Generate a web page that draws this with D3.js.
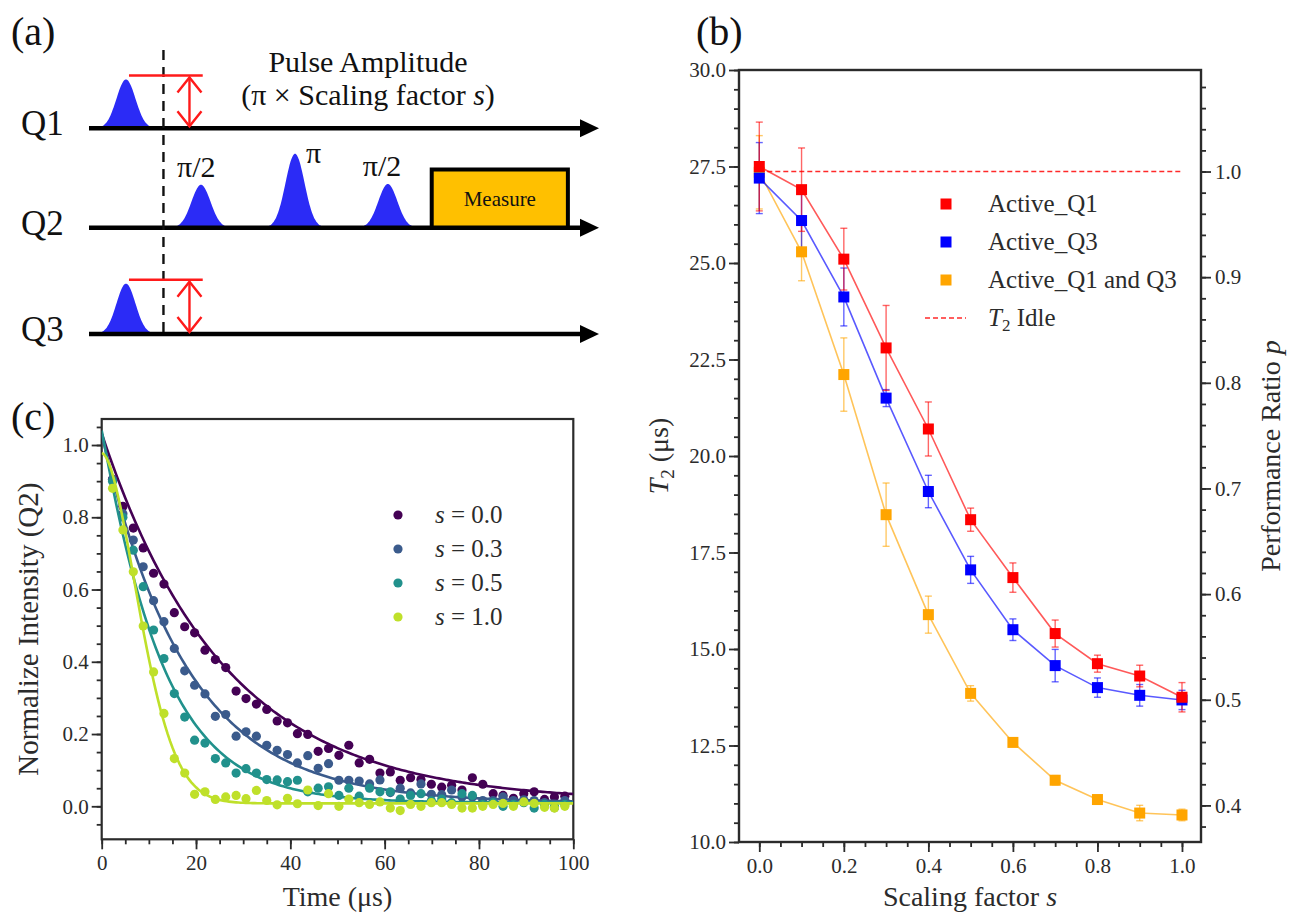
<!DOCTYPE html>
<html><head><meta charset="utf-8">
<script src="https://d3js.org/d3.v7.min.js"></script>
<style>
html,body{margin:0;padding:0;background:#fff;}
svg{display:block;}
</style></head>
<body>
<svg id="fig" width="1301" height="917" xmlns="http://www.w3.org/2000/svg"></svg>
<script>
// ===================== DATA =====================
// ---- Panel (b): T2 vs scaling factor ----
const scalingFactor = [0.0, 0.1, 0.2, 0.3, 0.4, 0.5, 0.6, 0.7, 0.8, 0.9, 1.0];
const t2ActiveQ1     = [27.50, 26.90, 25.10, 22.80, 20.70, 18.35, 16.85, 15.40, 14.62, 14.30, 13.75];
const t2ActiveQ1Err  = [1.15, 1.08, 0.80, 1.10, 0.70, 0.30, 0.38, 0.35, 0.22, 0.28, 0.38];
const t2ActiveQ3     = [27.20, 26.10, 24.12, 21.50, 19.08, 17.05, 15.50, 14.57, 14.00, 13.80, 13.68];
const t2ActiveQ3Err  = [0.92, 0.72, 0.75, 0.22, 0.42, 0.35, 0.28, 0.42, 0.25, 0.28, 0.25];
const t2ActiveQ1Q3   = [27.35, 25.29, 22.11, 18.48, 15.89, 13.85, 12.58, 11.60, 11.10, 10.75, 10.70];
const t2ActiveQ1Q3Err= [0.95, 0.75, 0.95, 0.82, 0.48, 0.20, 0.08, 0.12, 0.08, 0.20, 0.15];
const t2Idle = 27.37;
const seriesNamesB = ["Active_Q1", "Active_Q3", "Active_Q1 and Q3"];
const t2TickValues = [10.0, 12.5, 15.0, 17.5, 20.0, 22.5, 25.0, 27.5, 30.0];
const ratioTickValues = [0.4, 0.5, 0.6, 0.7, 0.8, 0.9, 1.0];
const scalingTickValues = [0.0, 0.2, 0.4, 0.6, 0.8, 1.0];

// ---- Panel (c): Ramsey/echo decay of Q2 ----
const timeUs = [2.3, 4.5, 6.7, 8.8, 11.0, 13.2, 15.4, 17.6, 19.7, 21.9, 24.1, 26.3, 28.5, 30.6, 32.8,
  35.0, 37.2, 39.4, 41.5, 43.7, 45.9, 48.1, 50.3, 52.4, 54.6, 56.8, 59.0, 61.2, 63.3, 65.5,
  67.7, 69.9, 72.1, 74.2, 76.4, 78.6, 80.8, 83.0, 85.1, 87.3, 89.5, 91.7, 93.9, 96.0, 98.2];
const intensityS00 = [0.905, 0.830, 0.770, 0.715, 0.645, 0.615, 0.536, 0.497, 0.480, 0.432, 0.406, 0.384, 0.319, 0.298, 0.283,
  0.268, 0.236, 0.231, 0.201, 0.199, 0.152, 0.160, 0.141, 0.169, 0.120, 0.130, 0.092, 0.095, 0.072, 0.079,
  0.074, 0.061, 0.053, 0.058, 0.045, 0.079, 0.061, 0.035, 0.030, 0.022, 0.035, 0.040, 0.019, 0.026, 0.028];
const intensityS03 = [0.905, 0.810, 0.737, 0.663, 0.569, 0.511, 0.437, 0.375, 0.335, 0.311, 0.249, 0.254, 0.194, 0.206, 0.194,
  0.169, 0.155, 0.143, 0.120, 0.140, 0.105, 0.118, 0.072, 0.072, 0.070, 0.062, 0.073, 0.038, 0.050, 0.037,
  0.062, 0.033, 0.032, 0.045, 0.026, 0.026, 0.016, 0.016, 0.026, 0.016, 0.018, 0.016, 0.010, -0.004, 0.016];
const intensityS05 = [0.900, 0.800, 0.709, 0.608, 0.488, 0.409, 0.312, 0.247, 0.183, 0.175, 0.132, 0.120, 0.092, 0.104, 0.092,
  0.074, 0.073, 0.068, 0.072, 0.040, 0.050, 0.054, 0.030, 0.050, 0.028, 0.050, 0.040, 0.040, 0.020, 0.030,
  0.035, 0.015, 0.020, 0.010, 0.035, 0.030, 0.005, 0.010, 0.000, 0.005, 0.010, -0.005, 0.005, 0.000, 0.005];
const intensityS10 = [0.880, 0.765, 0.649, 0.499, 0.372, 0.257, 0.132, 0.092, 0.033, 0.040, 0.019, 0.026, 0.030, 0.021, 0.044,
  0.016, 0.004, 0.022, 0.007, 0.045, 0.002, 0.035, 0.000, 0.020, 0.010, 0.005, 0.012, -0.005, -0.012, 0.005,
  0.000, 0.010, 0.010, 0.005, -0.005, -0.005, 0.000, 0.005, 0.008, 0.000, 0.012, 0.008, -0.003, -0.005, 0.000];
const sValueLabels = ["0.0", "0.3", "0.5", "1.0"];
// fit model  A*exp(-(t/T)^n) + c  (one entry per series)
const fitAmplitude = [1.02, 1.02, 1.03, 0.97];
const fitT = [26.0, 18.0, 13.0, 10.7];
const fitExponent = [1.0, 1.0, 1.05, 1.8];
const fitOffset = [0.012, 0.010, 0.010, 0.008];
const timeTickValues = [0, 20, 40, 60, 80, 100];
const intensityTickValues = [0.0, 0.2, 0.4, 0.6, 0.8, 1.0];

// ---- Panel (a): pulse schematic ----
const qubitLabels = ["Q1", "Q2", "Q3"];
const pulseQubit = [0, 1, 1, 1, 2];
const pulseTime = [7.25, 21.96, 40.4, 58.6, 7.25];
const pulseAmplitude = [0.66, 0.58, 1.0, 0.59, 0.68];
const pulseLabel = ["", "π/2", "π", "π/2", ""];
const scaledPulseIndex = [0, 4];

// ===================== STYLE / LAYOUT =====================
const FONT = '"Liberation Serif","Times New Roman",Times,serif';
const AXIS_COLOR = "#2b2b2b";
const TEXT_COLOR = "#2b2b2b";
const seriesColorsB = ["#ff0000", "#0000ff", "#ffa500"];
const viridisColors = ["#440154", "#3b5b8c", "#21918c", "#bfe02a"];

const svg = d3.select("#fig");
svg.append("rect").attr("width", 1301).attr("height", 917).attr("fill", "#fff");

function styleAxis(g, fs) {
  g.attr("font-family", FONT).attr("font-size", fs);
  g.select(".domain").remove();
  g.selectAll(".tick line").attr("stroke", AXIS_COLOR).attr("stroke-width", 1.8);
  g.selectAll(".tick text").attr("fill", TEXT_COLOR);
}
function panelLabel(txt, x, y) {
  svg.append("text").attr("x", x).attr("y", y).attr("font-family", FONT)
    .attr("font-size", 40).attr("fill", "#111").text(txt);
}

// ===================== PANEL (a) =====================
(function () {
  const g = svg.append("g");
  const ax = d3.scaleLinear().domain([0, 100]).range([89, 599]);
  const qy = d3.scaleOrdinal().domain([0, 1, 2]).range([128.3, 227.7, 334]);
  const unitH = 74; // pixel height of a pi pulse
  const sigma = 9.5;

  // pulses
  const area = d3.area().curve(d3.curveBasis);
  pulseTime.forEach((pt, i) => {
    const cx = ax(pt), base = qy(pulseQubit[i]), h = pulseAmplitude[i] * unitH;
    const pts = d3.range(-32, 32.5, 1).map(dx => [cx + dx, base - h * Math.exp(-dx * dx / (2 * sigma * sigma))]);
    g.append("path")
      .attr("d", area.x(d => d[0]).y0(base).y1(d => d[1])(pts))
      .attr("fill", "#2b2bf6");
    if (pulseLabel[i]) {
      const lx = pulseLabel[i] === "π" ? cx + 11 : cx - 24 + (i === 3 ? -1 : 0);
      const ly = pulseLabel[i] === "π" ? base - h + 9 : base - h - 8;
      g.append("text").attr("x", lx).attr("y", ly).attr("font-family", FONT)
        .attr("font-size", 30).attr("fill", "#111").text(pulseLabel[i]);
    }
  });

  // qubit lines with arrowheads
  qubitLabels.forEach((q, i) => {
    const y = qy(i);
    g.append("line").attr("x1", ax(0)).attr("x2", ax(100) - 12).attr("y1", y).attr("y2", y)
      .attr("stroke", "#000").attr("stroke-width", 4.5);
    g.append("path").attr("d", `M${ax(100)},${y} L${ax(100) - 19},${y - 9} L${ax(100) - 19},${y + 9} Z`)
      .attr("fill", "#000");
    g.append("text").attr("x", 21).attr("y", y + 7).attr("font-family", FONT)
      .attr("font-size", 35).attr("fill", "#111").text(q);
  });

  // dashed vertical separator
  g.append("line").attr("x1", ax(14.6)).attr("x2", ax(14.6)).attr("y1", 50).attr("y2", 334)
    .attr("stroke", "#111").attr("stroke-width", 2.4).attr("stroke-dasharray", "10,7");

  // amplitude markers for scaled pulses
  scaledPulseIndex.forEach(i => {
    const base = qy(pulseQubit[i]), h = pulseAmplitude[i] * unitH;
    const top = base - h - 4;
    g.append("line").attr("x1", ax(pulseTime[i]) + 3).attr("x2", ax(22.3)).attr("y1", top).attr("y2", top)
      .attr("stroke", "#ff1a1a").attr("stroke-width", 2.4);
    const x = ax(19.7);
    g.append("line").attr("x1", x).attr("x2", x).attr("y1", top + 2).attr("y2", base - 2)
      .attr("stroke", "#ff1a1a").attr("stroke-width", 2.4);
    g.append("path").attr("d", `M${x - 12},${top + 17} L${x},${top + 2} L${x + 12},${top + 17}`)
      .attr("fill", "none").attr("stroke", "#ff1a1a").attr("stroke-width", 2.4);
    g.append("path").attr("d", `M${x - 12},${base - 17} L${x},${base - 2} L${x + 12},${base - 17}`)
      .attr("fill", "none").attr("stroke", "#ff1a1a").attr("stroke-width", 2.4);
  });

  // annotation text
  g.append("text").attr("x", 368).attr("y", 72).attr("text-anchor", "middle").attr("font-family", FONT)
    .attr("font-size", 30).attr("fill", "#111").text("Pulse Amplitude");
  const t2 = g.append("text").attr("x", 368).attr("y", 105).attr("text-anchor", "middle").attr("font-family", FONT)
    .attr("font-size", 30).attr("fill", "#111");
  t2.append("tspan").text("(π × Scaling factor ");
  t2.append("tspan").attr("font-style", "italic").text("s");
  t2.append("tspan").text(")");

  // measure box
  g.append("rect").attr("x", ax(67.2)).attr("y", 169.5).attr("width", ax(93.9) - ax(67.2)).attr("height", 58)
    .attr("fill", "#ffc000").attr("stroke", "#000").attr("stroke-width", 4);
  g.append("text").attr("x", (ax(67.2) + ax(93.9)) / 2).attr("y", 206).attr("text-anchor", "middle")
    .attr("font-family", FONT).attr("font-size", 21).attr("fill", "#111").text("Measure");

  panelLabel("(a)", 11, 45);
})();

// ===================== PANEL (b) =====================
(function () {
  const g = svg.append("g");
  const L = 739, R = 1201, T = 70, B = 842;
  const x = d3.scaleLinear().domain([-0.048, 1.045]).range([L, R]);
  const y = d3.scaleLinear().domain([10, 30]).range([B, T]);
  const yr = d3.scaleLinear().domain([10 / t2Idle, 30 / t2Idle]).range([B, T]);

  const fs = 21;
  styleAxis(g.append("g").attr("transform", `translate(${L},0)`)
    .call(d3.axisLeft(y).tickValues(d3.range(10, 30.01, 0.5)).tickSize(5).tickFormat("")), fs);
  styleAxis(g.append("g").attr("transform", `translate(${L},0)`)
    .call(d3.axisLeft(y).tickValues(t2TickValues).tickSize(10).tickPadding(3).tickFormat(d3.format(".1f"))), fs);
  styleAxis(g.append("g").attr("transform", `translate(0,${B})`)
    .call(d3.axisBottom(x).tickValues(d3.range(0, 1.001, 0.05)).tickSize(5).tickFormat("")), fs);
  styleAxis(g.append("g").attr("transform", `translate(0,${B})`)
    .call(d3.axisBottom(x).tickValues(scalingTickValues).tickSize(10).tickPadding(6).tickFormat(d3.format(".1f"))), fs);
  styleAxis(g.append("g").attr("transform", `translate(${R},0)`)
    .call(d3.axisRight(yr).tickValues(d3.range(0.38, 1.09, 0.02)).tickSize(5).tickFormat("")), fs);
  styleAxis(g.append("g").attr("transform", `translate(${R},0)`)
    .call(d3.axisRight(yr).tickValues(ratioTickValues).tickSize(10).tickPadding(4).tickFormat(d3.format(".1f"))), fs);

  g.append("rect").attr("x", L).attr("y", T).attr("width", R - L).attr("height", B - T)
    .attr("fill", "none").attr("stroke", AXIS_COLOR).attr("stroke-width", 2.4);

  // idle line
  g.append("line").attr("x1", x(0)).attr("x2", x(1)).attr("y1", y(t2Idle)).attr("y2", y(t2Idle))
    .attr("stroke", "#ff2a2a").attr("stroke-width", 1.5).attr("stroke-dasharray", "5,3");

  const seriesB = [
    { v: t2ActiveQ1, e: t2ActiveQ1Err },
    { v: t2ActiveQ3, e: t2ActiveQ3Err },
    { v: t2ActiveQ1Q3, e: t2ActiveQ1Q3Err }
  ];
  const line = d3.line().x((d, i) => x(scalingFactor[i])).y(d => y(d));
  const order = [2, 1, 0];
  order.forEach(si => {
    const s = seriesB[si], c = seriesColorsB[si];
    g.append("path").attr("d", line(s.v)).attr("fill", "none").attr("stroke", c)
      .attr("stroke-width", 1.6).attr("stroke-opacity", 0.65);
    s.v.forEach((v, i) => {
      const xx = x(scalingFactor[i]);
      const eg = g.append("g").attr("stroke", c).attr("stroke-width", 1.4).attr("stroke-opacity", 0.6);
      eg.append("line").attr("x1", xx).attr("x2", xx).attr("y1", y(v - s.e[i])).attr("y2", y(v + s.e[i]));
      eg.append("line").attr("x1", xx - 3.5).attr("x2", xx + 3.5).attr("y1", y(v - s.e[i])).attr("y2", y(v - s.e[i]));
      eg.append("line").attr("x1", xx - 3.5).attr("x2", xx + 3.5).attr("y1", y(v + s.e[i])).attr("y2", y(v + s.e[i]));
    });
  });
  order.forEach(si => {
    const s = seriesB[si], c = seriesColorsB[si];
    g.selectAll(null).data(s.v).join("rect")
      .attr("x", (d, i) => x(scalingFactor[i]) - 5.5).attr("y", d => y(d) - 5.5)
      .attr("width", 11).attr("height", 11).attr("fill", c);
  });

  // legend
  const legY = [204, 242, 280];
  seriesNamesB.forEach((n, i) => {
    g.append("rect").attr("x", 940.5).attr("y", legY[i] - 5.5).attr("width", 11).attr("height", 11)
      .attr("fill", seriesColorsB[i]);
    g.append("text").attr("x", 988).attr("y", legY[i] + 8).attr("font-family", FONT).attr("font-size", 25)
      .attr("fill", TEXT_COLOR).text(n);
  });
  g.append("line").attr("x1", 925).attr("x2", 966).attr("y1", 318).attr("y2", 318)
    .attr("stroke", "#ff2a2a").attr("stroke-width", 1.5).attr("stroke-dasharray", "5,3");
  const lt = g.append("text").attr("x", 988).attr("y", 326).attr("font-family", FONT).attr("font-size", 25)
    .attr("fill", TEXT_COLOR);
  lt.append("tspan").attr("font-style", "italic").text("T");
  lt.append("tspan").attr("font-size", 17).attr("dy", 5).text("2");
  lt.append("tspan").attr("dy", -5).text(" Idle");

  // axis titles
  const yl = g.append("text").attr("transform", `translate(668,${(T + B) / 2}) rotate(-90)`)
    .attr("text-anchor", "middle").attr("font-family", FONT).attr("font-size", 28).attr("fill", TEXT_COLOR);
  yl.append("tspan").attr("font-style", "italic").text("T");
  yl.append("tspan").attr("font-size", 19).attr("dy", 6).text("2");
  yl.append("tspan").attr("dy", -6).text(" (μs)");

  const rl = g.append("text").attr("transform", `translate(1280,${(T + B) / 2}) rotate(-90)`)
    .attr("text-anchor", "middle").attr("font-family", FONT).attr("font-size", 28).attr("fill", TEXT_COLOR);
  rl.append("tspan").text("Performance Ratio ");
  rl.append("tspan").attr("font-style", "italic").text("p");

  const xl = g.append("text").attr("x", (L + R) / 2).attr("y", 906).attr("text-anchor", "middle")
    .attr("font-family", FONT).attr("font-size", 28).attr("fill", TEXT_COLOR);
  xl.append("tspan").text("Scaling factor ");
  xl.append("tspan").attr("font-style", "italic").text("s");

  panelLabel("(b)", 696, 45);
})();

// ===================== PANEL (c) =====================
(function () {
  const g = svg.append("g");
  const L = 101.7, R = 573.3, T = 419, B = 839.3;
  const x = d3.scaleLinear().domain([0, 100]).range([L, R]);
  const y = d3.scaleLinear().domain([-0.0914, 1.072]).range([B, T]);
  const fs = 21;

  styleAxis(g.append("g").attr("transform", `translate(${L},0)`)
    .call(d3.axisLeft(y).tickValues(d3.range(-0.05, 1.06, 0.05)).tickSize(5).tickFormat("")), fs);
  styleAxis(g.append("g").attr("transform", `translate(${L},0)`)
    .call(d3.axisLeft(y).tickValues(intensityTickValues).tickSize(10).tickPadding(3).tickFormat(d3.format(".1f"))), fs);
  styleAxis(g.append("g").attr("transform", `translate(0,${B})`)
    .call(d3.axisBottom(x).tickValues(d3.range(0, 100.1, 5)).tickSize(5).tickFormat("")), fs);
  styleAxis(g.append("g").attr("transform", `translate(0,${B})`)
    .call(d3.axisBottom(x).tickValues(timeTickValues).tickSize(10).tickPadding(6).tickFormat(d3.format("d"))), fs);

  g.append("rect").attr("x", L).attr("y", T).attr("width", R - L).attr("height", B - T)
    .attr("fill", "none").attr("stroke", AXIS_COLOR).attr("stroke-width", 2.2);

  const clipId = "clipC";
  svg.append("defs").append("clipPath").attr("id", clipId).append("rect")
    .attr("x", L).attr("y", T).attr("width", R - L).attr("height", B - T);
  const plot = g.append("g").attr("clip-path", `url(#${clipId})`);

  const seriesC = [intensityS00, intensityS03, intensityS05, intensityS10];
  const fitTimes = d3.range(0, 100.01, 0.5);
  seriesC.forEach((vals, si) => {
    const c = viridisColors[si];
    plot.selectAll(null).data(vals).join("circle")
      .attr("cx", (d, i) => x(timeUs[i])).attr("cy", d => y(d)).attr("r", 4.6).attr("fill", c);
    const fit = t => fitAmplitude[si] * Math.exp(-Math.pow(t / fitT[si], fitExponent[si])) + fitOffset[si];
    plot.append("path").attr("d", d3.line().x(t => x(t)).y(t => y(fit(t)))(fitTimes))
      .attr("fill", "none").attr("stroke", c).attr("stroke-width", 2.6);
  });

  // legend
  const legY = [515, 549, 583, 617];
  sValueLabels.forEach((lab, i) => {
    g.append("circle").attr("cx", 398).attr("cy", legY[i]).attr("r", 4.6).attr("fill", viridisColors[i]);
    const t = g.append("text").attr("x", 435).attr("y", legY[i] + 8).attr("font-family", FONT)
      .attr("font-size", 25).attr("fill", TEXT_COLOR).attr("xml:space", "preserve");
    t.append("tspan").attr("font-style", "italic").text("s");
    t.append("tspan").text(" = " + lab);
  });

  // axis titles
  g.append("text").attr("transform", `translate(38,${(T + B) / 2}) rotate(-90)`)
    .attr("text-anchor", "middle").attr("font-family", FONT).attr("font-size", 29).attr("fill", TEXT_COLOR)
    .text("Normalize Intensity (Q2)");
  g.append("text").attr("x", (L + R) / 2).attr("y", 906).attr("text-anchor", "middle")
    .attr("font-family", FONT).attr("font-size", 28).attr("fill", TEXT_COLOR).text("Time (μs)");

  panelLabel("(c)", 11, 430);
})();
</script>
</body></html>
